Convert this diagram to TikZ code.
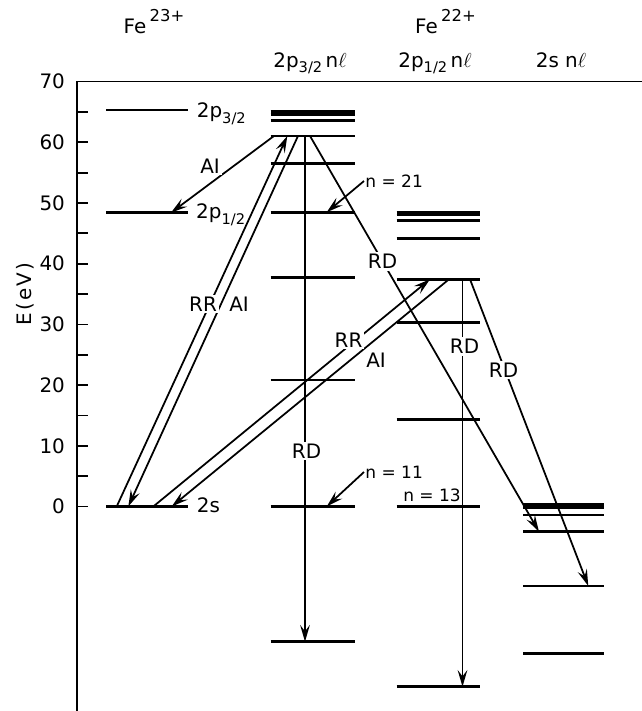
\documentclass[tikz,border=0pt]{standalone}
\usepackage{fontspec}
\setmainfont{DejaVu Sans}
\usetikzlibrary{arrows.meta}

\newcommand\ionch[1]{\raisebox{.62em}{\fontsize{14}{14}\selectfont#1}}
\newcommand\lsub[1]{\raisebox{-.3em}{\fontsize{12.5}{12.5}\selectfont#1}}

\begin{document}
\begin{tikzpicture}[
    x=0.03cm, y=0.1821cm,
    >={Stealth[length=5mm,width=2.9mm,inset=1.9mm]},
    every node/.style={font=\fontsize{17}{19}\selectfont},
    lvl/.style={line width=2.2pt},
    tr/.style={->,line width=1.5pt},
    lab/.style={fill=white,inner sep=1.5pt},
    nlab/.style={font=\fontsize{14.5}{17}\selectfont,inner sep=1pt},
  ]
  \useasboundingbox (0,-33.69) rectangle (642,83.44);

  % -- energy axis --
  \draw[line width=1.5pt] (76.7,-33.69) -- (76.7,70) -- (642,70);
  \foreach \e in {0,5,...,65}
    \draw[line width=1.5pt] (76.7,\e) -- (88,\e);
  \foreach \e in {0,10,...,70}
    \node[anchor=east] (t\e) at (69,\e) {\e};
  \node[rotate=90] (elab) at (25,35)
       {\addfontfeatures{LetterSpace=12}E(eV)};

  % -- headers --
  \node[anchor=base] (fe23) at (154,77.84) {Fe\,\ionch{23+}};
  \node[anchor=base] (fe22) at (445.5,77.84) {Fe\,\ionch{22+}};
  \node[anchor=base] (h32) at (310,72.4) {2p\lsub{3/2}\,n$\ell$};
  \node[anchor=base] (h12) at (435,72.4) {2p\lsub{1/2}\,n$\ell$};
  \node[anchor=base] (hs) at (561,72.4) {2s n$\ell$};

  % -- levels --
  \foreach \e in {65.3,48.4,0}
    \draw[lvl] (106,\e) -- (188,\e);
  \foreach \e in {65.07,64.58,63.56,61.04,56.54,48.47,37.76,20.84,0,-22.27}
    \draw[lvl] (270.7,\e) -- (355,\e);
  \foreach \e in {48.47,48.0,47.08,44.12,37.43,30.28,14.37,0,-29.69}
    \draw[lvl] (396.7,\e) -- (480,\e);
  \foreach \e in {0.33,-0.16,-1.40,-4.15,-13.10,-24.18}
    \draw[lvl] (523,\e) -- (604,\e);

  \node[anchor=base west,inner sep=0pt] (l32) at (196.7,64.15) {2p\lsub{3/2}};
  \node[anchor=base west,inner sep=0pt] (l12) at (196,47.48) {2p\lsub{1/2}};
  \node[anchor=base west,inner sep=0pt] (l2s) at (196.7,-1.02) {2s};

  % -- end points on the levels --
  \coordinate (rrA) at (116.7,0);    \coordinate (rrB) at (287.3,61.04);
  \coordinate (aiA) at (298,61.04);  \coordinate (aiB) at (128.3,0);
  \coordinate (rrC) at (153.3,0);    \coordinate (rrD) at (430,37.43);
  \coordinate (aiC) at (449,37.43);  \coordinate (aiD) at (171.7,0);
  \coordinate (aiE) at (274,61.04);  \coordinate (aiF) at (171,48.4);
  \coordinate (rdA) at (310,61.04);  \coordinate (rdB) at (539,-4.15);
  \coordinate (rdC) at (305,61.04);  \coordinate (rdD) at (305,-22.27);
  \coordinate (rdE) at (462.5,37.43); \coordinate (rdF) at (462.5,-29.69);
  \coordinate (rdG) at (470,37.43);  \coordinate (rdH) at (588.3,-13.10);
  \coordinate (p21) at (326.7,48.47); \coordinate (p11) at (326.7,0);

  % -- transitions --
  \draw[tr] (aiE) -- (aiF);
  \draw[tr] (rrA) -- (rrB);
  \draw[tr] (aiA) -- (aiB);
  \draw[tr] (rrC) -- (rrD);
  \draw[tr] (aiC) -- (aiD);
  \draw[tr] (rdA) -- (rdB);
  \draw[tr] (rdC) -- (rdD);
  \draw[tr] (rdE) -- (rdF);
  \draw[tr] (rdG) -- (rdH);

  % -- labels on the transitions --
  \node[lab] (ai1) at (210,56.1) {AI};
  \node[lab] (rr1) at (203,33.36) {RR};
  \node[inner sep=1pt] (ai2) at (239,33.36) {AI};
  \node[lab] (rr2) at (348.5,27.43) {RR};
  \node[inner sep=1pt] (ai3) at (376,24.14) {AI};
  \node[lab] (rd1) at (382.5,40.36) {RD};
  \node[lab] (rd2) at (306.5,9.14) {RD};
  \node[lab] (rd3) at (464.5,26.36) {RD};
  \node[lab] (rd4) at (503.5,22.49) {RD};

  % -- principal quantum numbers --
  \node[nlab,anchor=west] (n21) at (364,53.62) {n = 21};
  \node[nlab,anchor=west] (n11) at (364,5.68) {n = 11};
  \node[nlab] (n13) at (432,1.89) {n = 13};
  \draw[tr] (n21.west) -- (p21);
  \draw[tr] (n11.west) -- (p11);
\end{tikzpicture}
\end{document}
